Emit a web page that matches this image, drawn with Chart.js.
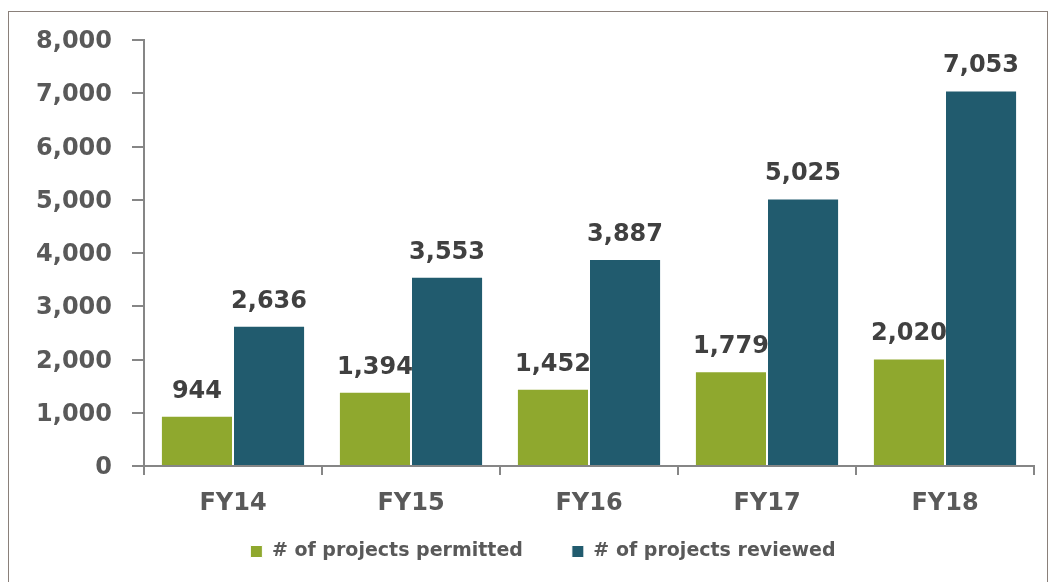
<!DOCTYPE html>
<html>
<head>
<meta charset="utf-8">
<script src="https://cdn.jsdelivr.net/npm/chart.js@4/dist/chart.umd.min.js"></script>
<style>
  html, body { margin: 0; padding: 0; background: #ffffff; }
  #wrap { position: relative; width: 1054px; height: 582px; overflow: hidden; }
  #frame { position: absolute; left: 8px; top: 11px; width: 1040px; height: 600px; border: 1px solid #8a807a; box-sizing: border-box; }
  canvas { position: absolute; left: 0; top: 0; }
</style>
</head>
<body>
<div id="wrap">
  <div id="frame"></div>
  <canvas id="c" width="1054" height="582"></canvas>
</div>
<script>
const categories = ['FY14', 'FY15', 'FY16', 'FY17', 'FY18'];
const permitted = [944, 1394, 1452, 1779, 2020];
const reviewed = [2636, 3553, 3887, 5025, 7053];
const seriesNames = ['# of projects permitted', '# of projects reviewed'];
const yTicks = [0, 1000, 2000, 3000, 4000, 5000, 6000, 7000, 8000];

const fmt = v => Number(v).toLocaleString('en-US');
const FONT = '"DejaVu Sans", Verdana, sans-serif';

const dataLabels = {
  id: 'dataLabels',
  afterDatasetsDraw(chart) {
    const ctx = chart.ctx;
    ctx.save();
    ctx.font = 'bold 24px ' + FONT;
    ctx.fillStyle = '#404040';
    ctx.textAlign = 'center';
    ctx.textBaseline = 'alphabetic';
    chart.data.datasets.forEach((ds, i) => {
      const meta = chart.getDatasetMeta(i);
      meta.data.forEach((el, j) => {
        ctx.fillText(fmt(ds.data[j]), el.x, el.y - 18);
      });
    });
    ctx.restore();
  }
};

const legendShift = {
  id: 'legendShift',
  afterLayout(chart) {
    const lg = chart.legend;
    if (lg) {
      const h = lg.bottom - lg.top;
      lg.left += 26; lg.right += 26;
      lg.top = 493; lg.bottom = 493 + h;
    }
  }
};

new Chart(document.getElementById('c'), {
  type: 'bar',
  data: {
    labels: categories,
    datasets: [
      { label: seriesNames[0], data: permitted, backgroundColor: '#8fa82e', borderColor: '#ffffff', borderWidth: 1, categoryPercentage: 0.81, barPercentage: 1.0 },
      { label: seriesNames[1], data: reviewed, backgroundColor: '#215b6e', borderColor: '#ffffff', borderWidth: 1, categoryPercentage: 0.81, barPercentage: 1.0 }
    ]
  },
  options: {
    responsive: false,
    animation: false,
    devicePixelRatio: 1,
    layout: { padding: { left: 0, right: 20, top: 40, bottom: -10 } },
    plugins: {
      legend: {
        position: 'bottom',
        labels: {
          boxWidth: 12, boxHeight: 12, padding: 49,
          color: '#595959',
          font: { family: FONT, size: 19, weight: 'bold' }
        }
      },
      tooltip: { enabled: false }
    },
    scales: {
      x: {
        offset: true,
        grid: { display: true, drawOnChartArea: false, drawTicks: true, tickLength: 9, color: '#868686', lineWidth: 2, offset: true },
        border: { display: true, color: '#868686', width: 2 },
        ticks: { color: '#595959', padding: 14, font: { family: FONT, size: 24, weight: 'bold' } },
        afterFit(scale) { scale.height = 48; }
      },
      y: {
        min: 0, max: 8000,
        afterBuildTicks(scale) { scale.ticks = yTicks.map(v => ({ value: v })); },
        grid: { display: true, drawOnChartArea: false, drawTicks: true, tickLength: 12, color: '#868686', lineWidth: 2 },
        border: { display: true, color: '#868686', width: 2 },
        ticks: { color: '#595959', padding: 20, labelOffset: 2, callback: v => fmt(v), font: { family: FONT, size: 24, weight: 'bold' } },
        afterFit(scale) { scale.width = 144; }
      }
    }
  },
  plugins: [dataLabels, legendShift]
});
</script>
</body>
</html>
